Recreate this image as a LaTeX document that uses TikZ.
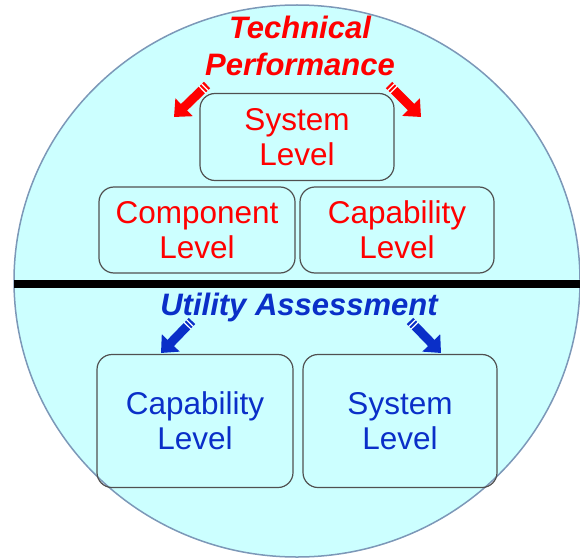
\documentclass[tikz,border=0pt]{standalone}
\usepackage{fontspec}
\setmainfont{Liberation Sans}
\usetikzlibrary{arrows.meta,calc}
\definecolor{circCyan}{HTML}{CCFFFF}
\definecolor{circEdge}{HTML}{7C98B8}
\definecolor{tpRed}{HTML}{FF0000}
\definecolor{uaBlue}{HTML}{0A2FC8}
\definecolor{boxGray}{HTML}{505050}

\begin{document}
\begin{tikzpicture}[x=1pt,y=-1pt,
  lvl/.style={draw=boxGray,line width=1.2pt,rounded corners=15pt,align=center,inner sep=0pt,
    font=\fontsize{31.5}{35}\selectfont},
  title/.style={align=center,inner sep=0pt,font=\fontsize{31}{37}\selectfont\bfseries\itshape},
  bigarrow/.style={line width=9pt,-{Triangle[length=14pt,width=24pt]}}]
\useasboundingbox (0,0) rectangle (580,559);
\filldraw[fill=circCyan,draw=circEdge,line width=1.5pt] (297,281) ellipse [x radius=283,y radius=276];
\draw[line width=8pt] (14,284) -- (580,284);

% upper half
\node[title,text=tpRed] (tp) at (300,46) {Technical\\Performance};
\node[lvl,text=tpRed,minimum width=194pt,minimum height=87pt] (syst) at (297,137) {System\\Level};
\node[lvl,text=tpRed,minimum width=196pt,minimum height=86pt] (comp) at (197,230) {Component\\Level};
\node[lvl,text=tpRed,minimum width=194pt,minimum height=86pt] (capt) at (397,230) {Capability\\Level};

% lower half
\node[title,text=uaBlue,anchor=base] (ua) at (299,315) {Utility Assessment};
\node[lvl,text=uaBlue,minimum width=196pt,minimum height=133pt] (capu) at (195,421) {Capability\\Level};
\node[lvl,text=uaBlue,minimum width=194pt,minimum height=133pt] (sysu) at (400,421) {System\\Level};

\coordinate (tpl0) at (207,85);  \coordinate (tpl1) at (174,117);
\coordinate (tpr0) at (389,85);  \coordinate (tpr1) at (421,117);
\coordinate (ual0) at (192,321); \coordinate (ual1) at (161,353);
\coordinate (uar0) at (410,321); \coordinate (uar1) at (441,353);
\draw[bigarrow,tpRed] (tpl0) -- (tpl1);
\draw[bigarrow,tpRed] (tpr0) -- (tpr1);
\draw[bigarrow,uaBlue] (ual0) -- (ual1);
\draw[bigarrow,uaBlue] (uar0) -- (uar1);
\foreach \a/\b in {tpl0/tpl1,tpr0/tpr1,ual0/ual1,uar0/uar1}
  \foreach \d in {3,6.5}
    \draw[white,line width=1.2pt] ($($(\a)!\d pt!(\b)$)!5pt!90:(\b)$) -- ($($(\a)!\d pt!(\b)$)!5pt!-90:(\b)$);
\end{tikzpicture}
\end{document}
